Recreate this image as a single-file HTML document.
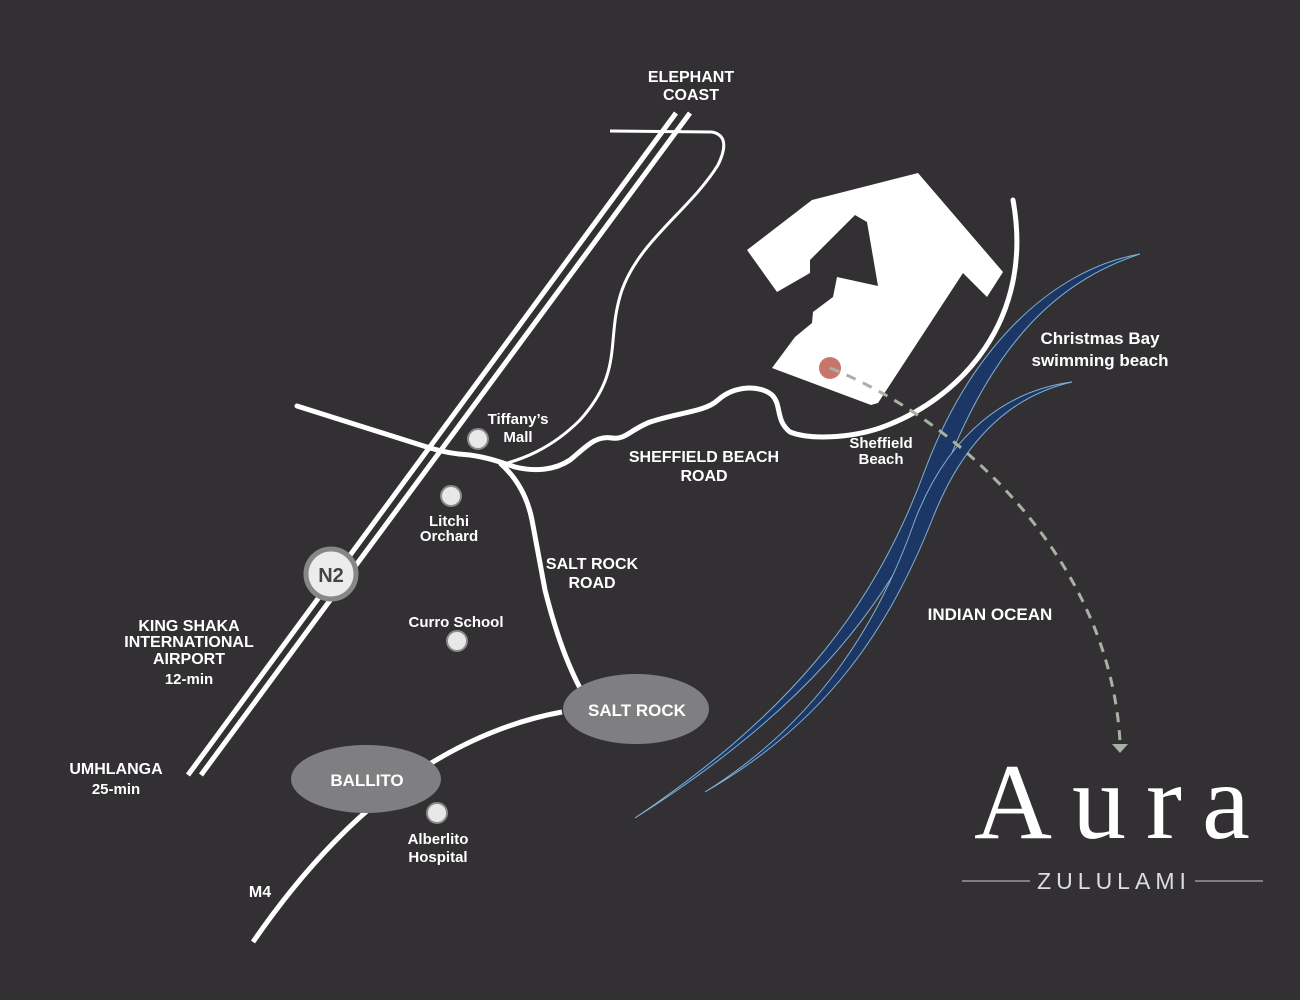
<!DOCTYPE html>
<html><head><meta charset="utf-8"><style>
html,body{margin:0;padding:0;background:#323033;}
svg{display:block}
text{font-family:"Liberation Sans",sans-serif;font-weight:bold;fill:#fff;text-anchor:middle}
</style></head><body>
<svg width="1300" height="1000" viewBox="0 0 1300 1000" xmlns="http://www.w3.org/2000/svg">
<rect width="1300" height="1000" fill="#323033"/>
<line x1="676" y1="113" x2="188" y2="775" stroke="#fff" stroke-width="5"/>
<line x1="690" y1="113" x2="201" y2="775" stroke="#fff" stroke-width="5"/>
<path d="M610,131 L712,132 Q732,136 718,165 C690,210 640,240 622,290 C605,340 625,370 580,420 C550,450 520,460 500,465" fill="none" stroke="#fff" stroke-width="3"/>
<path d="M297,406 L430,448 Q450,454 470,455 C490,458 500,462 515,467 C535,472 555,470 570,460 C585,448 595,435 612,438 C625,440 630,430 650,422 C680,412 705,412 718,400 C735,385 760,385 772,395 C782,405 775,420 790,432 C810,440 850,438 880,428 C960,400 1035,320 1013,200" fill="none" stroke="#fff" stroke-width="5" stroke-linecap="round"/>
<path d="M500,463 Q525,485 532,520 L545,590 Q560,650 580,688" fill="none" stroke="#fff" stroke-width="5"/>
<path d="M253,942 Q330,830 420,770 Q490,725 562,712" fill="none" stroke="#fff" stroke-width="5"/>
<polygon points="747,250 812,200 918,173 1003,272 987,297 963,273 878,403 871,405 772,368 795,337 812,323 813,312 833,297 837,277 878,286 867,222 855,215 810,260 810,273 777,292" fill="#fff"/>
<path d="M635,818 C780,720 870,620 925,470 C970,350 1050,270 1140,254 C1060,280 995,340 945,470 C890,615 790,720 635,818Z" fill="#1c3766" stroke="#7fb0d0" stroke-width="1"/>
<path d="M705,792 C820,720 880,620 915,520 C950,430 1010,390 1072,382 C1015,395 965,435 932,520 C890,625 830,720 705,792Z" fill="#1c3766" stroke="#7fb0d0" stroke-width="1"/>
<circle cx="830" cy="368" r="11" fill="#c8766c"/>
<path d="M830,368 C960,420 1110,560 1120,742" fill="none" stroke="#a8b2a2" stroke-width="3" stroke-dasharray="10,8"/>
<polygon points="1112,744 1128,744 1120,753" fill="#a8b2a2"/>
<ellipse cx="636" cy="709" rx="73" ry="35" fill="#7f7f81"/>
<ellipse cx="366" cy="779" rx="75" ry="34" fill="#7f7f81"/>
<text x="637" y="716" font-size="17">SALT ROCK</text>
<text x="367" y="786" font-size="17">BALLITO</text>
<circle cx="331" cy="574" r="25" fill="#ececec" stroke="#878787" stroke-width="5"/>
<text x="331" y="582" font-size="20" style="fill:#444">N2</text>
<g fill="#e8e8e8" stroke="#8a8a8a" stroke-width="2">
<circle cx="478" cy="439" r="10"/><circle cx="451" cy="496" r="10"/><circle cx="457" cy="641" r="10"/><circle cx="437" cy="813" r="10"/>
</g>
<g font-size="15">
<text x="518" y="424">Tiffany’s</text><text x="518" y="442">Mall</text>
<text x="449" y="526">Litchi</text><text x="449" y="541">Orchard</text>
<text x="456" y="627">Curro School</text>
<text x="438" y="844">Alberlito</text><text x="438" y="862">Hospital</text>
<text x="881" y="448">Sheffield</text><text x="881" y="464">Beach</text>
</g>
<g font-size="16">
<text x="691" y="82">ELEPHANT</text><text x="691" y="100">COAST</text>
<text x="704" y="462">SHEFFIELD BEACH</text><text x="704" y="481">ROAD</text>
<text x="592" y="569">SALT ROCK</text><text x="592" y="588">ROAD</text>
<text x="189" y="631">KING SHAKA</text><text x="189" y="647">INTERNATIONAL</text><text x="189" y="664">AIRPORT</text>
<text x="116" y="774">UMHLANGA</text>
<text x="260" y="897">M4</text>
<text x="990" y="620" font-size="17">INDIAN OCEAN</text>
<text x="1100" y="344" font-size="17">Christmas Bay</text><text x="1100" y="366" font-size="17">swimming beach</text>
</g>
<g font-size="15"><text x="189" y="684">12-min</text><text x="116" y="794">25-min</text></g>
<text x="1122" y="838" font-size="108" style="font-family:'Liberation Serif',serif;font-weight:normal;letter-spacing:20px">Aura</text>
<line x1="962" y1="881" x2="1030" y2="881" stroke="#999" stroke-width="1.5"/>
<line x1="1195" y1="881" x2="1263" y2="881" stroke="#999" stroke-width="1.5"/>
<text x="1114" y="889" font-size="23" style="font-family:'Liberation Sans',sans-serif;font-weight:normal;letter-spacing:5px;fill:#ddd">ZULULAMI</text>
</svg>
</body></html>
